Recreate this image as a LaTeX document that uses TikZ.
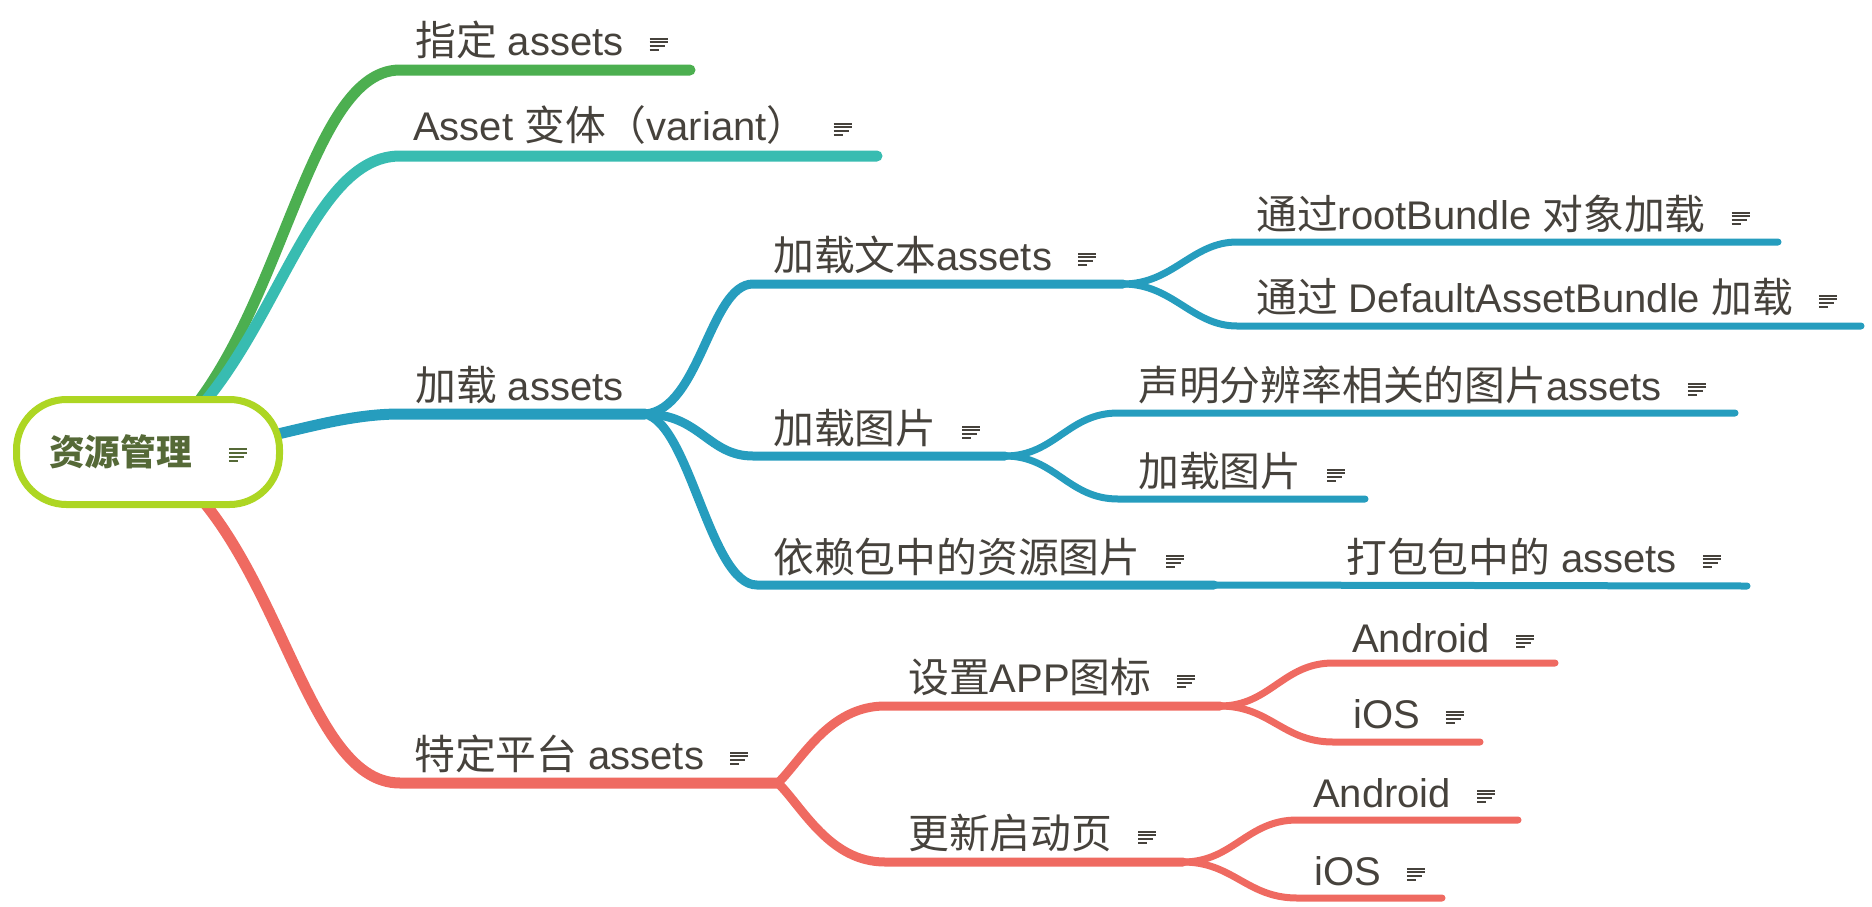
\documentclass[tikz,border=0pt]{standalone}
\usepackage{fontspec}
\setmainfont{Liberation Sans}
\newfontfamily\cjk[Scale=1.02]{Noto Sans CJK SC}
\usetikzlibrary{backgrounds}

\definecolor{inkgray}{HTML}{46423C}
\definecolor{hubline}{HTML}{ADD623}
\definecolor{hubtext}{HTML}{556937}
\definecolor{cgreen}{HTML}{4CAF50}
\definecolor{cteal}{HTML}{38BCB1}
\definecolor{cblue}{HTML}{269DBE}
\definecolor{cred}{HTML}{EF6A61}

% little "notes" mark after a topic
\newcommand{\memoicon}{\hspace{26pt}\raisebox{4pt}{\vbox{\hrule width 18pt height 2pt\vskip 1.8pt
  \hrule width 18pt height 2pt\vskip 1.8pt\hrule width 15pt height 2pt\vskip 1.8pt\hrule width 9pt height 2pt}}}

\begin{document}
\begin{tikzpicture}[x=1pt,y=-1pt,
  topic/.style={anchor=base west,inner sep=0pt,text=inkgray,font=\fontsize{40}{48}\selectfont},
  hub/.style={draw=hubline,line width=7pt,fill=white,rounded corners=50pt,minimum width=263pt,
    minimum height=105pt,inner sep=0pt,text=hubtext,font=\fontsize{35}{42}\selectfont},
  trunk/.style={line width=11pt,line cap=round},
  limb/.style={line width=9pt,line cap=round},
  twig/.style={line width=7pt,line cap=round}]
\useasboundingbox (0,0) rectangle (1872,906);

% underline ends
\coordinate (spec-a) at (400,70);      \coordinate (spec-b) at (690,70);
\coordinate (variant-a) at (400,156);  \coordinate (variant-b) at (877,156);
\coordinate (load-a) at (400,414);     \coordinate (load-b) at (645,414);
\coordinate (platform-a) at (400,783); \coordinate (platform-b) at (778,783);

\coordinate (text-a) at (753,284);     \coordinate (text-b) at (1123,284);
\coordinate (image-a) at (753,456);    \coordinate (image-b) at (1005,456);
\coordinate (dep-a) at (757,585);      \coordinate (dep-b) at (1214,585);
\coordinate (appicon-a) at (885,706);  \coordinate (appicon-b) at (1220,706);
\coordinate (splash-a) at (885,862);   \coordinate (splash-b) at (1183,862);

\coordinate (rootbundle-a) at (1237,242); \coordinate (rootbundle-b) at (1778,242);
\coordinate (defbundle-a) at (1237,326);  \coordinate (defbundle-b) at (1861,326);
\coordinate (resol-a) at (1118,413);      \coordinate (resol-b) at (1735,413);
\coordinate (loadimg-a) at (1118,499);    \coordinate (loadimg-b) at (1365,499);
\coordinate (pack-b) at (1747,586);
\coordinate (andr1-a) at (1333,663);  \coordinate (andr1-b) at (1555,663);
\coordinate (ios1-a) at (1333,742);   \coordinate (ios1-b) at (1480,742);
\coordinate (andr2-a) at (1297,820);  \coordinate (andr2-b) at (1518,820);
\coordinate (ios2-a) at (1297,898);   \coordinate (ios2-b) at (1442,898);

% topics
\node[hub] (root) at (148,452) {{\cjk\bfseries 资源管理}\hspace{11pt}\memoicon};

\node[topic] (spec) at (415,55) {{\cjk 指定} assets\memoicon};
\node[topic] (variant) at (413,140) {Asset {\cjk 变体（}variant{\cjk ）}\memoicon};
\node[topic] (load) at (415,400) {{\cjk 加载} assets};
\node[topic] (platform) at (414,769) {{\cjk 特定平台} assets\memoicon};

\node[topic] (text) at (773,270) {{\cjk 加载文本}assets\memoicon};
\node[topic] (image) at (773,443) {{\cjk 加载图片}\memoicon};
\node[topic] (dep) at (773,572) {{\cjk 依赖包中的资源图片}\memoicon};
\node[topic] (appicon) at (908,692) {{\cjk 设置}APP{\cjk 图标}\memoicon};
\node[topic] (splash) at (908,848) {{\cjk 更新启动页}\memoicon};

\node[topic] (rootbundle) at (1256,229) {{\cjk 通过}rootBundle {\cjk 对象加载}\memoicon};
\node[topic] (defbundle) at (1256,312) {{\cjk 通过} DefaultAssetBundle {\cjk 加载}\memoicon};
\node[topic] (resol) at (1138,400) {{\cjk 声明分辨率相关的图片}assets\memoicon};
\node[topic] (loadimg) at (1138,486) {{\cjk 加载图片}\memoicon};
\node[topic] (pack) at (1346,572) {{\cjk 打包包中的} assets\memoicon};
\node[topic] (andr1) at (1352,652) {Android\memoicon};
\node[topic] (ios1) at (1353,728) {iOS\memoicon};
\node[topic] (andr2) at (1313,807) {Android\memoicon};
\node[topic] (ios2) at (1314,885) {iOS\memoicon};

\begin{scope}[on background layer]
% from the root
\draw[trunk,cgreen] (root.center) .. controls +(132,-92) and +(-100,0) .. (spec-a) -- (spec-b);
\draw[trunk,cteal] (root.center) .. controls +(122,-72) and +(-100,0) .. (variant-a) -- (variant-b);
\draw[trunk,cblue] (root.center) .. controls +(102,0) and +(-80,0) .. (load-a) -- (load-b);
\draw[trunk,cred] (root.center) .. controls +(132,80) and +(-100,0) .. (platform-a) -- (platform-b);

% second level
\draw[limb,cblue] (load-b) .. controls +(55,-4) and +(-43,0) .. (text-a) -- (text-b);
\draw[limb,cblue] (load-b) .. controls +(55,0) and +(-45,0) .. (image-a) -- (image-b);
\draw[limb,cblue] (load-b) .. controls +(45,10) and +(-47,0) .. (dep-a) -- (dep-b);
\draw[limb,cred] (platform-b) .. controls +(25,-25) and +(-55,0) .. (appicon-a) -- (appicon-b);
\draw[limb,cred] (platform-b) .. controls +(25,25) and +(-55,0) .. (splash-a) -- (splash-b);

% third level
\draw[twig,cblue] (text-b) .. controls +(50,0) and +(-45,0) .. (rootbundle-a) -- (rootbundle-b);
\draw[twig,cblue] (text-b) .. controls +(50,0) and +(-45,0) .. (defbundle-a) -- (defbundle-b);
\draw[twig,cblue] (image-b) .. controls +(50,0) and +(-50,0) .. (resol-a) -- (resol-b);
\draw[twig,cblue] (image-b) .. controls +(50,0) and +(-50,0) .. (loadimg-a) -- (loadimg-b);
\draw[twig,cblue] (dep-b) -- (pack-b);
\draw[twig,cred] (appicon-b) .. controls +(50,0) and +(-50,0) .. (andr1-a) -- (andr1-b);
\draw[twig,cred] (appicon-b) .. controls +(50,0) and +(-50,0) .. (ios1-a) -- (ios1-b);
\draw[twig,cred] (splash-b) .. controls +(50,0) and +(-50,0) .. (andr2-a) -- (andr2-b);
\draw[twig,cred] (splash-b) .. controls +(50,0) and +(-50,0) .. (ios2-a) -- (ios2-b);
\end{scope}
\end{tikzpicture}
\end{document}
